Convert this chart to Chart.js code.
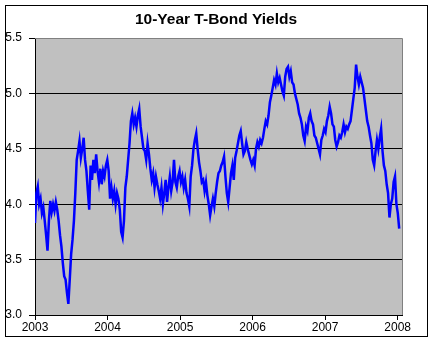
<!DOCTYPE html>
<html>
<head>
<meta charset="utf-8">
<script src="https://cdn.jsdelivr.net/npm/chart.js@4.4.0/dist/chart.umd.min.js"></script>
<style>
body { margin: 0; background: #fff; }
#wrap { width: 434px; height: 351px; }
</style>
</head>
<body>
<div id="wrap"><canvas id="bondChart" width="434" height="351"></canvas></div>
<script>
const chartTitle = '10-Year T-Bond Yields';
const yearTicks = [2003, 2004, 2005, 2006, 2007, 2008];
const yieldTicks = [3.0, 3.5, 4.0, 4.5, 5.0, 5.5];

// weekly readings, starting at the first week of 2003
const firstWeek = 2003.0;
const weekLength = 7 / 365.25;

const yields2003 = [
    3.83, 4.10, 4.16, 4.00, 4.05, 3.92, 3.97, 3.85, 3.72, 3.58, 3.85, 4.03, 3.93,
    4.00, 3.94, 4.02, 3.95, 3.85, 3.72, 3.62, 3.47, 3.35, 3.32, 3.20, 3.10, 3.32,
    3.55, 3.68, 3.85, 4.10, 4.40, 4.48, 4.57, 4.42, 4.50, 4.60, 4.40, 4.30, 4.12,
    3.95, 4.35, 4.22, 4.40, 4.28, 4.45, 4.30, 4.20, 4.32, 4.18, 4.30, 4.25, 4.35, 4.40
];
const yields2004 = [
    4.30, 4.05, 4.15, 4.05, 4.12, 4.00, 4.10, 4.05, 3.95, 3.75, 3.70, 3.85, 4.15,
    4.25, 4.40, 4.55, 4.75, 4.82, 4.72, 4.78, 4.70, 4.80, 4.86, 4.70, 4.60, 4.50,
    4.48, 4.40, 4.55, 4.45, 4.32, 4.22, 4.28, 4.15, 4.25, 4.18, 4.12, 4.05, 4.15,
    4.00, 4.10, 4.22, 4.02, 4.15, 4.25, 4.12, 4.20, 4.40, 4.20, 4.15, 4.25, 4.30
];
const yields2005 = [
    4.20, 4.25, 4.15, 4.22, 4.10, 4.05, 3.98, 4.25, 4.35, 4.50, 4.58, 4.64, 4.50,
    4.38, 4.30, 4.20, 4.22, 4.12, 4.20, 4.08, 4.00, 3.90, 3.98, 4.05, 3.98, 4.10,
    4.20, 4.28, 4.30, 4.35, 4.38, 4.43, 4.25, 4.10, 4.02, 4.15, 4.28, 4.35, 4.22,
    4.42, 4.48, 4.55, 4.62, 4.66, 4.55, 4.45, 4.48, 4.56, 4.50, 4.45, 4.40, 4.36
];
const yields2006 = [
    4.40, 4.35, 4.50, 4.56, 4.52, 4.58, 4.55, 4.60, 4.68, 4.75, 4.72, 4.80, 4.92,
    4.98, 5.05, 5.12, 5.08, 5.18, 5.10, 5.14, 5.08, 5.02, 4.98, 5.15, 5.22, 5.24,
    5.15, 5.20, 5.10, 5.08, 5.00, 4.95, 4.90, 4.82, 4.78, 4.72, 4.62, 4.57, 4.70,
    4.66, 4.78, 4.82, 4.75, 4.72, 4.62, 4.60, 4.55, 4.50, 4.45, 4.58, 4.62, 4.68
];
const yields2007 = [
    4.65, 4.75, 4.80, 4.88, 4.82, 4.72, 4.70, 4.58, 4.52, 4.56, 4.62, 4.60, 4.65,
    4.72, 4.65, 4.70, 4.68, 4.72, 4.75, 4.85, 4.95, 5.05, 5.26, 5.15, 5.08, 5.15,
    5.10, 5.05, 4.95, 4.85, 4.75, 4.70, 4.62, 4.55, 4.40, 4.35, 4.48, 4.58, 4.50,
    4.60, 4.68, 4.48, 4.35, 4.30, 4.18, 4.10, 3.88, 4.00, 4.05, 4.20, 4.25, 4.00
];
const yields2008 = [3.92, 3.78];

const allYields = [].concat(yields2003, yields2004, yields2005, yields2006, yields2007, yields2008);
const points = allYields.map((v, i) => ({ x: firstWeek + i * weekLength, y: v }));

const labelFont = { family: 'Arial, "Liberation Sans", sans-serif', size: 12 };

// Excel style plot area: grey fill, grey top/right edge, black outer frame, title centred on the frame
const excelFrame = {
    id: 'excelFrame',
    beforeDraw(chart) {
        const ctx = chart.ctx;
        const a = chart.chartArea;
        ctx.save();
        ctx.fillStyle = '#ffffff';
        ctx.fillRect(0, 0, chart.width, chart.height);
        ctx.fillStyle = '#c0c0c0';
        ctx.fillRect(a.left, a.top, a.right - a.left, a.bottom - a.top);
        ctx.restore();
    },
    afterDraw(chart) {
        const ctx = chart.ctx;
        const a = chart.chartArea;
        ctx.save();
        ctx.lineWidth = 1;
        ctx.strokeStyle = '#808080';
        ctx.beginPath();
        ctx.moveTo(a.left, a.top + 0.5);
        ctx.lineTo(a.right + 0.5, a.top + 0.5);
        ctx.lineTo(a.right + 0.5, a.bottom);
        ctx.stroke();
        ctx.strokeStyle = '#000000';
        ctx.strokeRect(5.5, 5.5, 422, 331);

        ctx.fillStyle = '#000';
        ctx.font = 'bold 15.5px Arial, "Liberation Sans", sans-serif';
        ctx.textAlign = 'center';
        ctx.textBaseline = 'middle';
        ctx.fillText(chartTitle, 216, 19.5);
        ctx.restore();
    }
};

new Chart(document.getElementById('bondChart'), {
    type: 'line',
    data: {
        datasets: [{
            data: points,
            borderColor: '#0000ff',
            borderWidth: 2.5,
            pointRadius: 0,
            tension: 0,
            fill: false
        }]
    },
    options: {
        responsive: false,
        animation: false,
        layout: { padding: { left: 0, right: 32, top: 38, bottom: 0 } },
        plugins: {
            legend: { display: false },
            tooltip: { enabled: false },
            title: { display: false }
        },
        scales: {
            x: {
                type: 'linear',
                min: 2003,
                max: 2008.06,
                afterBuildTicks: s => { s.ticks = yearTicks.map(v => ({ value: v })); },
                afterFit: s => { s.height = 36; },
                ticks: {
                    callback: v => String(v),
                    color: '#000',
                    font: labelFont,
                    autoSkip: false,
                    maxRotation: 0,
                    padding: 0
                },
                grid: { drawOnChartArea: false, tickLength: 5, tickColor: '#000' },
                border: { color: '#000', width: 1 }
            },
            y: {
                min: 3,
                max: 5.5,
                afterBuildTicks: s => { s.ticks = yieldTicks.map(v => ({ value: v })); },
                afterFit: s => { s.width = 35; },
                ticks: {
                    callback: v => v.toFixed(1),
                    color: '#000',
                    font: labelFont,
                    padding: 7
                },
                grid: {
                    color: c => (c.tick && (c.tick.value === 3 || c.tick.value === 5.5)) ? 'rgba(0,0,0,0)' : '#000',
                    tickLength: 6,
                    tickColor: '#000'
                },
                border: { color: '#000', width: 1 }
            }
        }
    },
    plugins: [excelFrame]
});
</script>
</body>
</html>
